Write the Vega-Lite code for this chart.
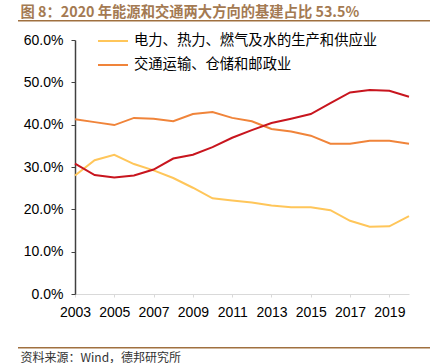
{
  "$schema": "https://vega.github.io/schema/vega-lite/v6.json",
  "width": 334,
  "height": 254,
  "autosize": "none",
  "padding": {"left": 75, "top": 40, "right": 32, "bottom": 69},
  "background": "white",
  "config": {"view": {"stroke": null}, "font": "Liberation Sans", "legend": {"padding": 0}},
  "data": {"values": [
    {"year": 2003, "s": "电力、热力、燃气及水的生产和供应业", "v": 0.280},
    {"year": 2004, "s": "电力、热力、燃气及水的生产和供应业", "v": 0.316},
    {"year": 2005, "s": "电力、热力、燃气及水的生产和供应业", "v": 0.329},
    {"year": 2006, "s": "电力、热力、燃气及水的生产和供应业", "v": 0.307},
    {"year": 2007, "s": "电力、热力、燃气及水的生产和供应业", "v": 0.292},
    {"year": 2008, "s": "电力、热力、燃气及水的生产和供应业", "v": 0.274},
    {"year": 2009, "s": "电力、热力、燃气及水的生产和供应业", "v": 0.251},
    {"year": 2010, "s": "电力、热力、燃气及水的生产和供应业", "v": 0.226},
    {"year": 2011, "s": "电力、热力、燃气及水的生产和供应业", "v": 0.221},
    {"year": 2012, "s": "电力、热力、燃气及水的生产和供应业", "v": 0.216},
    {"year": 2013, "s": "电力、热力、燃气及水的生产和供应业", "v": 0.209},
    {"year": 2014, "s": "电力、热力、燃气及水的生产和供应业", "v": 0.205},
    {"year": 2015, "s": "电力、热力、燃气及水的生产和供应业", "v": 0.205},
    {"year": 2016, "s": "电力、热力、燃气及水的生产和供应业", "v": 0.198},
    {"year": 2017, "s": "电力、热力、燃气及水的生产和供应业", "v": 0.173},
    {"year": 2018, "s": "电力、热力、燃气及水的生产和供应业", "v": 0.159},
    {"year": 2019, "s": "电力、热力、燃气及水的生产和供应业", "v": 0.160},
    {"year": 2020, "s": "电力、热力、燃气及水的生产和供应业", "v": 0.184},
    {"year": 2003, "s": "交通运输、仓储和邮政业", "v": 0.413},
    {"year": 2004, "s": "交通运输、仓储和邮政业", "v": 0.406},
    {"year": 2005, "s": "交通运输、仓储和邮政业", "v": 0.399},
    {"year": 2006, "s": "交通运输、仓储和邮政业", "v": 0.416},
    {"year": 2007, "s": "交通运输、仓储和邮政业", "v": 0.414},
    {"year": 2008, "s": "交通运输、仓储和邮政业", "v": 0.408},
    {"year": 2009, "s": "交通运输、仓储和邮政业", "v": 0.425},
    {"year": 2010, "s": "交通运输、仓储和邮政业", "v": 0.430},
    {"year": 2011, "s": "交通运输、仓储和邮政业", "v": 0.416},
    {"year": 2012, "s": "交通运输、仓储和邮政业", "v": 0.408},
    {"year": 2013, "s": "交通运输、仓储和邮政业", "v": 0.390},
    {"year": 2014, "s": "交通运输、仓储和邮政业", "v": 0.384},
    {"year": 2015, "s": "交通运输、仓储和邮政业", "v": 0.374},
    {"year": 2016, "s": "交通运输、仓储和邮政业", "v": 0.355},
    {"year": 2017, "s": "交通运输、仓储和邮政业", "v": 0.355},
    {"year": 2018, "s": "交通运输、仓储和邮政业", "v": 0.362},
    {"year": 2019, "s": "交通运输、仓储和邮政业", "v": 0.362},
    {"year": 2020, "s": "交通运输、仓储和邮政业", "v": 0.355},
    {"year": 2003, "s": "水利、环境和公共设施管理业", "v": 0.308},
    {"year": 2004, "s": "水利、环境和公共设施管理业", "v": 0.281},
    {"year": 2005, "s": "水利、环境和公共设施管理业", "v": 0.275},
    {"year": 2006, "s": "水利、环境和公共设施管理业", "v": 0.280},
    {"year": 2007, "s": "水利、环境和公共设施管理业", "v": 0.294},
    {"year": 2008, "s": "水利、环境和公共设施管理业", "v": 0.320},
    {"year": 2009, "s": "水利、环境和公共设施管理业", "v": 0.329},
    {"year": 2010, "s": "水利、环境和公共设施管理业", "v": 0.347},
    {"year": 2011, "s": "水利、环境和公共设施管理业", "v": 0.369},
    {"year": 2012, "s": "水利、环境和公共设施管理业", "v": 0.387},
    {"year": 2013, "s": "水利、环境和公共设施管理业", "v": 0.404},
    {"year": 2014, "s": "水利、环境和公共设施管理业", "v": 0.414},
    {"year": 2015, "s": "水利、环境和公共设施管理业", "v": 0.425},
    {"year": 2016, "s": "水利、环境和公共设施管理业", "v": 0.451},
    {"year": 2017, "s": "水利、环境和公共设施管理业", "v": 0.476},
    {"year": 2018, "s": "水利、环境和公共设施管理业", "v": 0.482},
    {"year": 2019, "s": "水利、环境和公共设施管理业", "v": 0.480},
    {"year": 2020, "s": "水利、环境和公共设施管理业", "v": 0.466}
  ]},
  "resolve": {"axis": {"x": "independent"}},
  "layer": [
    {
      "mark": {"type": "line", "strokeWidth": 2},
      "encoding": {
        "x": {"field": "year", "type": "quantitative",
          "scale": {"domain": [2003, 2020], "nice": false, "zero": false},
          "axis": {"orient": "bottom", "values": [2003, 2005, 2007, 2009, 2011, 2013, 2015, 2017, 2019], "format": "d",
            "grid": false, "domainColor": "#D9D9D9", "tickColor": "#D9D9D9", "tickSize": 3,
            "labelFontSize": 14, "labelColor": "#000000", "labelPadding": 8, "labelFlush": false, "labelOverlap": false,
            "title": "资料来源：Wind，德邦研究所",
            "titleFont": "Noto Sans CJK SC", "titleFontSize": 12, "titleFontWeight": "normal", "titleColor": "#333333",
            "titleX": -55, "titleY": 67, "titleAlign": "left", "titleBaseline": "alphabetic", "titleAngle": 0, "titleAnchor": null}},
        "y": {"field": "v", "type": "quantitative",
          "scale": {"domain": [0, 0.6], "nice": false},
          "axis": {"values": [0, 0.1, 0.2, 0.3, 0.4, 0.5, 0.6], "format": ".1%", "grid": false,
            "domainColor": "#404040", "tickColor": "#404040", "tickSize": 4, "domainWidth": 1.5,
            "labelFontSize": 14, "labelColor": "#000000", "labelPadding": 8, "title": null}},
        "color": {"field": "s", "type": "nominal",
          "scale": {"domain": ["电力、热力、燃气及水的生产和供应业", "交通运输、仓储和邮政业", "水利、环境和公共设施管理业"],
            "range": ["#FFC65A", "#F0843A", "#C8151E"]},
          "legend": {"values": ["电力、热力、燃气及水的生产和供应业", "交通运输、仓储和邮政业"],
            "orient": "none", "legendX": 22, "legendY": -15, "title": null,
            "symbolType": "stroke", "symbolSize": 900, "symbolStrokeWidth": 2,
            "labelFont": "Noto Sans CJK SC", "labelFontSize": 14.3, "labelColor": "#000000", "labelOffset": 5, "rowPadding": -7, "labelLimit": 400}}
      }
    },
    {
      "mark": {"type": "point", "opacity": 0},
      "encoding": {
        "x": {"field": "year", "type": "quantitative",
          "axis": {"orient": "top", "offset": 19, "domain": false, "ticks": false, "labels": false, "grid": false,
            "title": "图 8：2020 年能源和交通两大方向的基建占比 53.5%",
            "titleFont": "Noto Sans CJK SC", "titleFontSize": 14.3, "titleFontWeight": "bold", "titleColor": "#A47A52",
            "titleX": -55, "titleY": -5, "titleAlign": "left", "titleBaseline": "alphabetic", "titleAngle": 0, "titleAnchor": null}},
        "stroke": {"field": "v", "type": "quantitative",
          "scale": {"range": ["#A0703F", "#A0703F"]},
          "legend": {"orient": "none", "legendX": -57, "legendY": -20, "direction": "horizontal", "gradientLength": 412, "gradientThickness": 1.5,
            "gradientStrokeWidth": 0, "labelExpr": "''", "labelFontSize": 0, "values": [0.3], "title": null}}
      }
    },
    {
      "mark": {"type": "point", "opacity": 0, "filled": true},
      "encoding": {
        "x": {"field": "year", "type": "quantitative", "axis": null},
        "fill": {"field": "v", "type": "quantitative",
          "scale": {"range": ["#A0703F", "#A0703F"]},
          "legend": {"orient": "none", "legendX": -57, "legendY": 307, "direction": "horizontal", "gradientLength": 412, "gradientThickness": 1.5,
            "gradientStrokeWidth": 0, "labelExpr": "''", "labelFontSize": 0, "values": [0.3], "title": null}}
      }
    }
  ]
}
